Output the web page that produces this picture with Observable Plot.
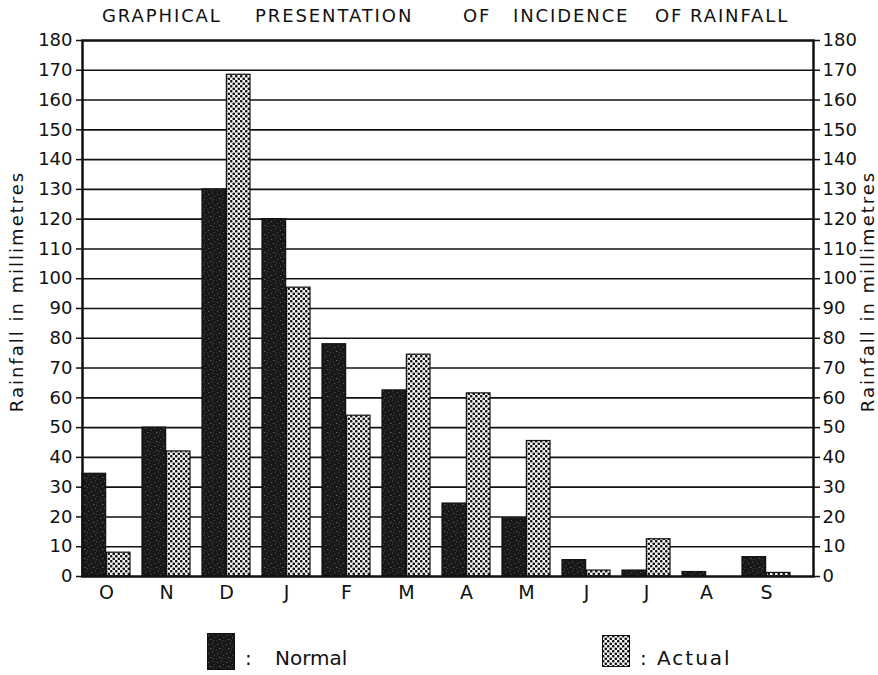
<!DOCTYPE html>
<html>
<head>
<meta charset="utf-8">
<script src="https://cdn.jsdelivr.net/npm/d3@7"></script>
<script src="https://cdn.jsdelivr.net/npm/@observablehq/plot@0.6"></script>
<style>
  html, body { margin: 0; padding: 0; background: #fff; }
  body { width: 878px; height: 675px; overflow: hidden; font-family: "DejaVu Sans", sans-serif; color: #111; }
  #title { position: relative; height: 30px; font-size: 18px; letter-spacing: 1.9px; }
  #title span { position: absolute; top: 5px; line-height: 22px; white-space: pre; }
  #chart svg { display: block; }
  #legend { position: relative; height: 64px; font-size: 20px; }
  #legend .sw { position: absolute; }
  #legend .lab { position: absolute; white-space: pre; line-height: 24px; }
</style>
</head>
<body>
<svg width="0" height="0" style="position:absolute">
  <defs>
    <pattern id="normalPat" patternUnits="userSpaceOnUse" width="9" height="9">
      <rect width="9" height="9" fill="#181818"/>
      <rect x="1" y="2" width="1.2" height="1" fill="#5a5a5a"/>
      <rect x="5" y="0.5" width="1" height="1.3" fill="#4a4a4a"/>
      <rect x="3" y="6" width="1.5" height="1" fill="#606060"/>
      <rect x="7" y="4" width="1" height="1" fill="#505050"/>
      <rect x="0" y="7.5" width="1" height="1" fill="#3c3c3c"/>
      <rect x="6" y="7" width="1" height="1.2" fill="#444"/>
    </pattern>
    <pattern id="actualPat" patternUnits="userSpaceOnUse" width="5" height="5">
      <rect width="5" height="5" fill="#fafafa"/>
      <circle cx="1.25" cy="1.25" r="1.35" fill="#151515"/>
      <circle cx="3.75" cy="3.75" r="1.35" fill="#151515"/>
    </pattern>
  </defs>
</svg>
<div id="title"><span style="left:102px">GRAPHICAL</span><span style="left:255px">PRESENTATION</span><span style="left:463px">OF</span><span style="left:513px">INCIDENCE</span><span style="left:655px">OF</span><span style="left:690px">RAINFALL</span></div>
<div id="chart"></div>
<div id="legend"></div>
<script>
// ---- data ----
const months = ["O", "N", "D", "J", "F", "M", "A", "M", "J", "J", "A", "S"];
const normal = [34.5, 50, 130, 120, 78, 62.5, 24.5, 19.5, 5.5, 2, 1.5, 6.5];
const actual = [8, 42, 168.5, 97, 54, 74.5, 61.5, 45.5, 2, 12.5, 0, 1.2];
const yTicks = [0, 10, 20, 30, 40, 50, 60, 70, 80, 90, 100, 110, 120, 130, 140, 150, 160, 170, 180];
const seriesNames = ["Normal", "Actual"];
const axisTitle = "Rainfall in millimetres";

// ---- layout ----
const W = 878, H = 581, ML = 82, MR = 65, MT = 10, MB = 35;
const step = (W - ML - MR) / 12;
const half = step * 0.8 / 2;

const idx = months.map((m, i) => i);
const rowsNormal = idx.map(i => ({i, value: normal[i]}));
const rowsActual = idx.map(i => ({i, value: actual[i]}));

const chart = Plot.plot({
  width: W, height: H,
  marginTop: MT, marginBottom: MB, marginLeft: ML, marginRight: MR,
  style: {fontFamily: "DejaVu Sans, sans-serif", fontSize: "18px", color: "#111", background: "#fff", overflow: "visible"},
  x: {type: "band", domain: idx, paddingInner: 0.2, paddingOuter: 0.1, align: 0, axis: null},
  y: {domain: [0, 180], axis: null},
  marks: [
    Plot.ruleY(yTicks.filter(t => t > 0 && t < 180), {stroke: "#111", strokeWidth: 1.6}),
    Plot.barY(rowsNormal, {x: "i", y: "value", fill: "url(#normalPat)", stroke: "#111", strokeWidth: 1.2, insetRight: half}),
    Plot.barY(rowsActual, {x: "i", y: "value", fill: "url(#actualPat)", stroke: "#111", strokeWidth: 1.2, insetLeft: half}),
    Plot.frame({stroke: "#111", strokeWidth: 2.5}),
    Plot.axisY({anchor: "left", ticks: yTicks, tickSize: 6, tickPadding: 4, label: null, fontSize: 18, strokeWidth: 1.5}),
    Plot.axisY({anchor: "right", ticks: yTicks, tickSize: 6, tickPadding: 3, label: null, fontSize: 18, strokeWidth: 1.5}),
    Plot.axisX({anchor: "bottom", ticks: idx, tickSize: 0, tickPadding: 9, tickFormat: i => months[i], label: null, fontSize: 19}),
    Plot.text([axisTitle], {frameAnchor: "left", text: d => d, textAnchor: "middle", rotate: -90, dx: -65, dy: -17, fontSize: 18, fill: "#111"}),
    Plot.text([axisTitle], {frameAnchor: "right", text: d => d, textAnchor: "middle", rotate: -90, dx: 55, dy: -17, fontSize: 18, fill: "#111"})
  ]
});
chart.querySelectorAll("text").forEach(t => { if (t.textContent === axisTitle) t.style.letterSpacing = "2px"; });
document.getElementById("chart").appendChild(chart);

// ---- legend ----
const legend = document.getElementById("legend");
const legendItems = [
  {name: seriesNames[0], pat: "normalPat", sx: 207, sy: 22, sw: 28, sh: 37, cx: 245, tx: 275, ls: "0px"},
  {name: seriesNames[1], pat: "actualPat", sx: 602, sy: 24, sw: 28, sh: 32, cx: 640, tx: 657, ls: "2px"}
];
legendItems.forEach(it => {
  const ns = "http://www.w3.org/2000/svg";
  const s = document.createElementNS(ns, "svg");
  s.setAttribute("class", "sw");
  s.setAttribute("width", it.sw); s.setAttribute("height", it.sh);
  s.style.left = it.sx + "px"; s.style.top = it.sy + "px";
  const r = document.createElementNS(ns, "rect");
  r.setAttribute("x", 0.5); r.setAttribute("y", 0.5);
  r.setAttribute("width", it.sw - 1); r.setAttribute("height", it.sh - 1);
  r.setAttribute("fill", `url(#${it.pat})`); r.setAttribute("stroke", "#111");
  s.appendChild(r);
  legend.appendChild(s);
  const c = document.createElement("div");
  c.className = "lab"; c.textContent = ":";
  c.style.left = it.cx + "px"; c.style.top = "35px";
  legend.appendChild(c);
  const t = document.createElement("div");
  t.className = "lab"; t.textContent = it.name;
  t.style.left = it.tx + "px"; t.style.top = "35px"; t.style.letterSpacing = it.ls;
  legend.appendChild(t);
});
</script>
</body>
</html>
